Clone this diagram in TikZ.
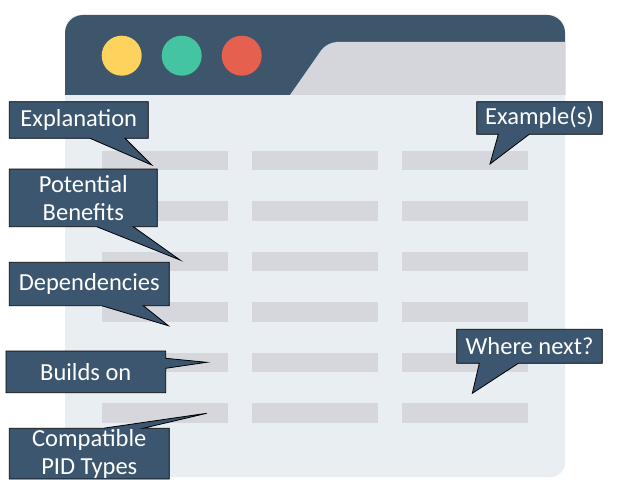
\documentclass[tikz,border=0pt]{standalone}
\usepackage{fontspec}
\setmainfont{Carlito}
\definecolor{headerblue}{HTML}{3D566B}
\definecolor{pagebg}{HTML}{E9EEF2}
\definecolor{barc}{HTML}{D5D7DC}
\definecolor{tabc}{HTML}{D4D6DB}
\definecolor{dotyellow}{HTML}{FDD35D}
\definecolor{dotgreen}{HTML}{44C4A1}
\definecolor{dotred}{HTML}{E6604F}
\definecolor{calloutc}{HTML}{3B566E}
\tikzset{
  bar/.style={fill=barc, draw=none},
  callout/.style={fill=calloutc, draw=black, line width=0.8pt, line join=miter},
  ctext/.style={text=white, font=\fontsize{24.5}{28}\selectfont, align=center, inner sep=0pt},
}
\begin{document}
\begin{tikzpicture}[x=1pt, y=-1pt]
\useasboundingbox (0,0) rectangle (618,492);
\fill[white] (0,0) rectangle (618,492);
% window body
\fill[pagebg, rounded corners=14pt] (65,15) rectangle (565,477);
% title bar
\fill[headerblue] (65,95) [rounded corners=18pt] -- (65,15) -- (565,15) [sharp corners] -- (565,95) -- cycle;
% tab
\fill[tabc] (290,95) [rounded corners=10pt] -- (327,42) [sharp corners] -- (565,42) -- (565,95) -- cycle;
% window buttons
\fill[dotyellow] (121.7,55.7) circle (20);
\fill[dotgreen] (181.7,55.7) circle (20);
\fill[dotred] (241.7,55.7) circle (20);
% placeholder rows
\foreach \r in {0,...,5}{
  \foreach \cx in {101.7,251.7,401.7}{
    \fill[bar] (\cx,150.7+50.5*\r) rectangle ++(126.5,19.5);
  }
}
% callouts
\draw[callout] (9.3,101.7) -- (148.3,101.7) -- (148.3,138.3) -- (125,138.3) -- (151.7,165) -- (90,138.3) -- (9.3,138.3) -- cycle;
\node[ctext] (expl) at (78.8,120) {Explanation};

\draw[callout] (9.3,169) -- (157.3,169) -- (157.3,226.7) -- (133.3,226.7) -- (180,260) -- (96.7,226.7) -- (9.3,226.7) -- cycle;
\node[ctext] (bene) at (83.3,198) {Potential\\Benefits};

\draw[callout] (9.3,262.3) -- (169.3,262.3) -- (169.3,305.7) -- (143.3,305.7) -- (168.3,325.7) -- (101.7,305.7) -- (9.3,305.7) -- cycle;
\node[ctext] (deps) at (89.3,284) {Dependencies};

\draw[callout] (6,351) -- (165.7,351) -- (165.7,358.3) -- (206.7,362.3) -- (165.7,368.3) -- (165.7,392.7) -- (6,392.7) -- cycle;
\node[ctext] (build) at (85.8,372) {Builds on};

\draw[callout] (9.3,428.3) -- (103,428.3) -- (206.7,413.3) -- (143,428.3) -- (169.3,428.3) -- (169.3,479) -- (9.3,479) -- cycle;
\node[ctext] (compat) at (89.3,454) {Compatible\\PID Types};

\draw[callout] (476.7,101.7) -- (602.3,101.7) -- (602.3,134.3) -- (529.3,134.3) -- (490,164) -- (498.3,134.3) -- (476.7,134.3) -- cycle;
\node[ctext] (examp) at (539.5,118) {Example(s)};

\draw[callout] (456.7,329.3) -- (602.3,329.3) -- (602.3,363.3) -- (518.3,363.3) -- (472.3,393.3) -- (479.3,363.3) -- (456.7,363.3) -- cycle;
\node[ctext] (next) at (529.5,346.3) {Where next?};
\end{tikzpicture}
\end{document}
